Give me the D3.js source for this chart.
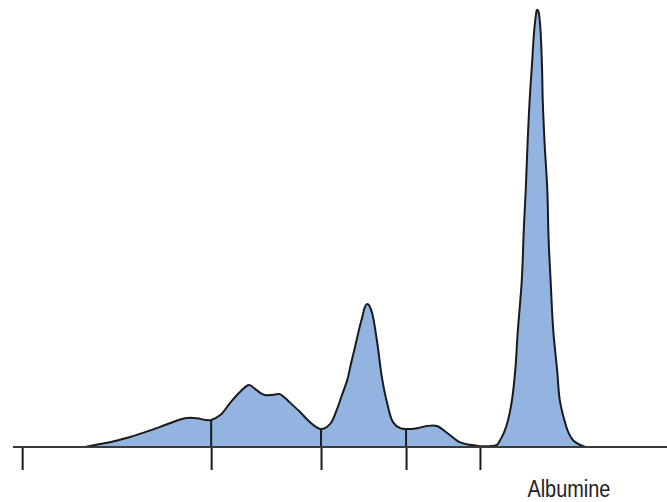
<!DOCTYPE html>
<html>
<head>
<meta charset="utf-8">
<script src="https://cdn.jsdelivr.net/npm/d3@7"></script>
<style>
  html, body { margin: 0; padding: 0; background: #fff; }
  svg { display: block; }
</style>
</head>
<body>
<svg id="chart" width="667" height="502"></svg>
<script>
// Electrophoretic mobility (arbitrary units, 0-100) and relative density (% of albumin peak)
const mobility = [
  11.0, 13.3, 14.8, 17.9, 20.2, 22.5, 24.8, 26.3, 28.1, 29.4, 30.3,
  31.7, 33.2, 34.7, 36.1, 37.0, 37.8, 38.5, 39.6, 40.8, 41.6, 42.4, 43.9, 45.4, 47.1,
  48.5, 49.5, 50.3, 51.1, 51.7, 52.3, 52.9, 53.4, 53.8, 54.1, 54.4, 54.9, 55.7, 56.4, 57.2, 58.1, 59.2,
  60.2, 61.8, 63.3, 64.8, 66.4, 68.3, 69.9, 71.4, 72.9, 74.0,
  74.5, 75.1, 75.7, 76.3, 76.8, 77.2, 77.8, 78.1, 78.4, 78.7, 79.0, 79.4, 79.7, 80.0, 80.1,
  80.3, 80.6, 80.9, 81.0, 81.3, 81.7, 81.9, 82.2, 82.6, 83.2, 83.6, 84.3, 84.9, 85.6, 86.4, 87.5
];
const density = [
  0.0, 0.7, 1.1, 2.3, 3.4, 4.6, 5.9, 6.6, 6.6, 6.2, 6.2,
  7.3, 10.1, 12.6, 14.2, 13.3, 12.4, 11.9, 11.9, 12.1, 11.2, 10.1, 8.0, 5.7, 4.1,
  5.3, 8.5, 11.9, 15.3, 19.2, 22.9, 26.8, 29.7, 32.0, 32.7, 32.5, 30.7, 23.8, 16.0, 10.1, 5.7, 4.3,
  4.1, 4.3, 4.8, 4.8, 3.2, 1.1, 0.5, 0.2, 0.2, 0.5,
  1.6, 3.4, 6.2, 10.8, 17.6, 26.8, 38.2, 49.7, 58.8, 70.2, 79.4, 88.6, 95.4, 99.3, 100.0,
  99.8, 96.6, 86.3, 79.4, 69.1, 58.8, 47.4, 38.2, 26.8, 17.6, 10.8, 6.2, 3.4, 1.6, 0.7, 0.0
];
// Fraction boundaries (tick marks on the axis)
const boundaries = [1.4, 30.3, 47.1, 60.1, 71.4];
const fractionLabels = ["Albumine"];
const labelPositions = [85.0];

const svg = d3.select("#chart");
const margin = { left: 13, right: 0, top: 10, bottom: 55 };
const W = 667, H = 502;

const x = d3.scaleLinear().domain([0, 100]).range([margin.left, W - margin.right]);
const y = d3.scaleLinear().domain([0, 100]).range([H - margin.bottom, margin.top]);
const baseY = y(0);

const data = mobility.map((m, i) => ({ m, d: density[i] }));
const curve = d3.curveCatmullRom.alpha(0.5);

const area = d3.area()
  .x(d => x(d.m))
  .y0(baseY)
  .y1(d => Math.min(baseY, y(d.d)))
  .curve(curve);

const line = d3.line()
  .x(d => x(d.m))
  .y(d => y(d.d))
  .curve(curve);

svg.append("path")
  .datum(data)
  .attr("d", area)
  .attr("fill", "#93b4e1");

svg.append("path")
  .datum(data)
  .attr("d", line)
  .attr("fill", "none")
  .attr("stroke", "#1a1a1a")
  .attr("stroke-width", 2)
  .attr("stroke-linejoin", "round");

// baseline axis with downward-extending tick marks
const axis = d3.axisBottom(x)
  .tickValues(boundaries)
  .tickSize(23)
  .tickFormat("");

const gAxis = svg.append("g")
  .attr("transform", `translate(0,${baseY})`)
  .call(axis);
gAxis.select(".domain").remove();
gAxis.selectAll(".tick line")
  .attr("stroke", "#1a1a1a")
  .attr("stroke-width", 2);

// boundary segments inside the fill (from baseline up to the curve)
const interp = v => {
  for (let i = 1; i < mobility.length; i++) {
    if (mobility[i] >= v) {
      const t = (v - mobility[i - 1]) / (mobility[i] - mobility[i - 1]);
      return density[i - 1] + t * (density[i] - density[i - 1]);
    }
  }
  return 0;
};
svg.append("g").selectAll("line")
  .data(boundaries.filter(b => interp(b) > 0.5))
  .join("line")
  .attr("x1", d => x(d)).attr("x2", d => x(d))
  .attr("y1", baseY).attr("y2", d => y(interp(d)))
  .attr("stroke", "#1a1a1a")
  .attr("stroke-width", 2);

svg.append("line")
  .attr("x1", x(0)).attr("x2", x(100))
  .attr("y1", baseY).attr("y2", baseY)
  .attr("stroke", "#3a3a3a")
  .attr("stroke-width", 2.2);

svg.append("g").selectAll("text")
  .data(fractionLabels)
  .join("text")
  .attr("x", (d, i) => x(labelPositions[i]))
  .attr("y", 497)
  .attr("text-anchor", "middle")
  .attr("font-family", "'Liberation Sans', Arial, sans-serif")
  .attr("font-size", 23)
  .attr("textLength", 83)
  .attr("lengthAdjust", "spacingAndGlyphs")
  .attr("fill", "#222")
  .text(d => d);
</script>
</body>
</html>
